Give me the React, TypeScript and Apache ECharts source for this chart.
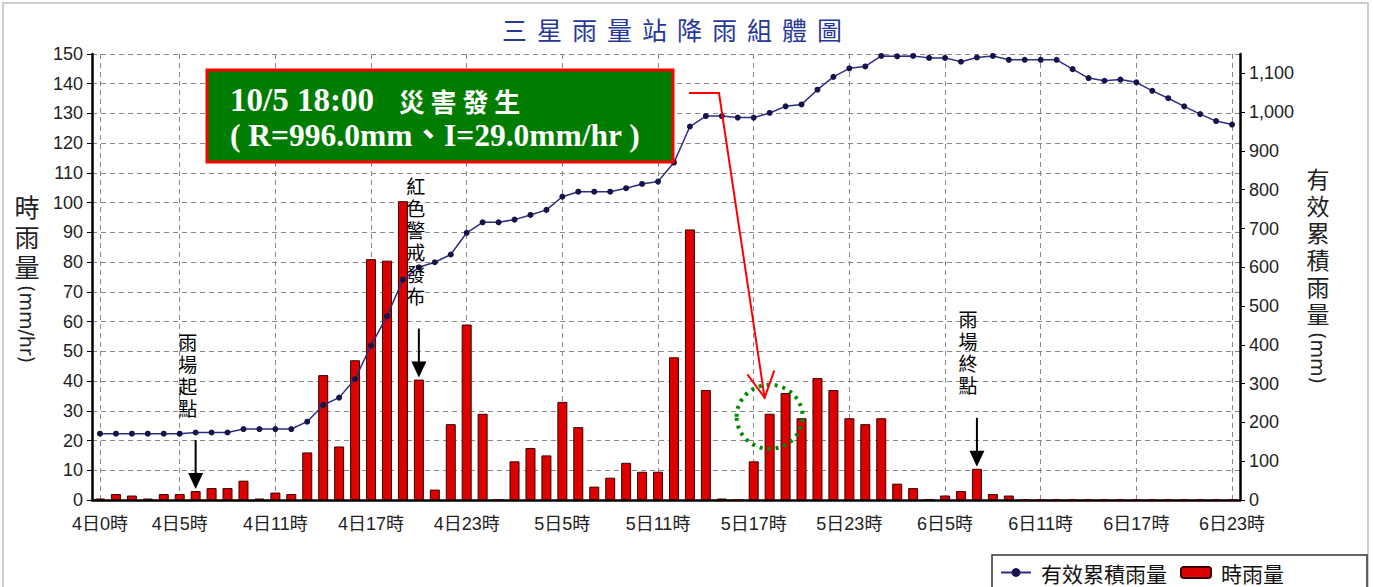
import React, { useEffect, useRef } from 'react';
import * as echarts from 'echarts';

// ---------- data ----------
const DAYS = ['4日', '5日', '6日'];
const HOURS_PER_DAY = 24;
const CATEGORIES: string[] = DAYS.flatMap((d) =>
  Array.from({ length: HOURS_PER_DAY }, (_, h) => `${d}${h}時`)
);
const LABELED_INDEX = [0, 5, 11, 17, 23, 29, 35, 41, 47, 53, 59, 65, 71];

// 時雨量 (mm/hr)
const HOURLY_RAIN = [
  0.5, 2, 1.5, 0.5, 2, 2, 3, 4, 4, 6.5, 0.5, 2.5,
  2, 16, 42, 18, 47, 81, 80.5, 100.5, 40.5, 3.5, 25.5, 59,
  29, 0, 13, 17.5, 15, 33, 24.5, 4.5, 7.5, 12.5, 9.5, 9.5,
  48, 91, 37, 0.5, 0, 13, 29, 36, 27.5, 41, 37, 27.5,
  25.5, 27.5, 5.5, 4, 0.3, 1.5, 3, 10.5, 2, 1.5, 0, 0,
  0, 0, 0, 0, 0, 0, 0, 0, 0, 0, 0, 0,
];

// 有效累積雨量 (mm)
const CUMULATIVE_RAIN = [
  171, 171, 171, 171, 171, 171, 174, 174, 174, 183, 183, 183,
  183, 202, 245, 264, 312, 398, 474, 568, 600, 613, 633, 689,
  716, 716, 723, 735, 748, 782, 795, 795, 795, 804, 815, 821,
  870, 963, 990, 990, 986, 986, 998, 1015, 1020, 1058, 1091, 1113,
  1118, 1145, 1144, 1145, 1140, 1140, 1130, 1141, 1145, 1135, 1135, 1135,
  1135, 1111, 1088, 1081, 1084, 1077, 1055, 1036, 1015, 995, 977, 968,
];

const RIGHT_TICKS = [0, 100, 200, 300, 400, 500, 600, 700, 800, 900, 1000, 1100];

const TITLE = '三星雨量站降雨組體圖';
const LEFT_TITLE = ['時雨量', '(mm/hr)'];
const RIGHT_TITLE = ['有效累積雨量', '(mm)'];
const DISASTER_TIME = '10/5 18:00';
const DISASTER_EVENT = '災 害 發 生';
const DISASTER_VALUES = '( R=996.0mm、I=29.0mm/hr )';

// annotation anchors: category index + label text
const MARKERS = [
  { index: 6, text: '雨場起點', dx: -8 },
  { index: 20, text: '紅色警戒發布', dx: -3 },
  { index: 55, text: '雨場終點', dx: -9 },
];
const DISASTER_INDEX = 42;

const FONT = '"Liberation Sans", Arial, "Noto Sans CJK TC", sans-serif';
const CJK = '"Noto Sans CJK TC", "Noto Sans CJK JP", sans-serif';
const SERIF = '"Liberation Serif", "Times New Roman", "Noto Sans CJK TC", serif';

export default function App() {
  const ref = useRef<HTMLDivElement>(null);

  useEffect(() => {
    if (!ref.current) return;
    const chart = echarts.init(ref.current, undefined, { renderer: 'svg' });
    const labelSet = new Set(LABELED_INDEX);
    const pick = (i: number) => labelSet.has(i);

    const option: any = {
      animation: false,
      backgroundColor: '#ffffff',
      grid: { left: 92, right: 133, top: 54, bottom: 87, containLabel: false },
      legend: {
        left: 992,
        top: 555,
        padding: [7, 83, 30, 8],
        borderColor: '#333',
        borderWidth: 1.5,
        itemGap: 13,
        itemWidth: 30,
        itemHeight: 11,
        textStyle: { fontSize: 21, color: '#111', fontFamily: CJK, padding: [0, 0, 0, 5] },
        data: [{ name: '有效累積雨量' }, { name: '時雨量' }],
      },
      xAxis: {
        type: 'category',
        data: CATEGORIES,
        boundaryGap: true,
        axisLine: { lineStyle: { color: '#000', width: 2.5 } },
        axisTick: { interval: pick, alignWithLabel: true, length: 5, lineStyle: { color: '#000', width: 1 } },
        axisLabel: { interval: pick, fontSize: 18, color: '#222', margin: 15, fontFamily: FONT },
        splitLine: {
          show: true,
          interval: pick,
          alignWithLabel: true,
          lineStyle: { color: '#888', type: [5, 4], width: 1 },
        },
      },
      yAxis: [
        {
          type: 'value',
          min: 0,
          max: 150,
          interval: 10,
          position: 'left',
          axisLine: { show: true, lineStyle: { color: '#000', width: 2.5 } },
          axisTick: { show: true, length: 5, lineStyle: { color: '#000' } },
          axisLabel: { fontSize: 18, color: '#222', margin: 9, fontFamily: FONT },
          splitLine: { show: true, lineStyle: { color: '#888', type: [5, 4], width: 1 } },
        },
        {
          type: 'value',
          min: 0,
          max: 1150,
          interval: 100,
          position: 'right',
          axisLine: { show: true, lineStyle: { color: '#000', width: 2.5 } },
          axisTick: { show: true, length: 5, customValues: RIGHT_TICKS, lineStyle: { color: '#000' } },
          axisLabel: {
            customValues: RIGHT_TICKS,
            fontSize: 18,
            color: '#222',
            margin: 9,
            fontFamily: FONT,
            formatter: (v: number) => v.toLocaleString('en-US'),
          },
          splitLine: { show: false },
        },
      ],
      series: [
        {
          name: '時雨量',
          type: 'bar',
          yAxisIndex: 0,
          data: HOURLY_RAIN,
          barWidth: 10,
          itemStyle: { color: '#dc0000', borderColor: '#3a0000', borderWidth: 1 },
          z: 2,
        },
        {
          name: '有效累積雨量',
          type: 'line',
          yAxisIndex: 1,
          data: CUMULATIVE_RAIN,
          symbol: 'circle',
          symbolSize: 6,
          showSymbol: true,
          lineStyle: { color: '#2d2d86', width: 1.5 },
          itemStyle: { color: '#14144a' },
          z: 3,
        },
      ],
    };
    chart.setOption(option);

    const px = (i: number, v: number) =>
      chart.convertToPixel({ xAxisIndex: 0, yAxisIndex: 0 }, [i, v]) as number[];

    const graphics: any[] = [];
    // outer frame
    graphics.push({
      type: 'rect',
      z: 0,
      silent: true,
      shape: { x: 3, y: 3, width: 1365, height: 620 },
      style: { fill: 'none', stroke: '#bdbdbd', lineWidth: 1.5 },
    });
    // title, spaced characters
    const titleChars = Array.from(TITLE);
    const pitch = 35;
    const titleStart = 672 - (titleChars.length * pitch) / 2 + pitch / 2;
    titleChars.forEach((ch, k) => {
      graphics.push({
        type: 'text',
        z: 100,
        x: titleStart + k * pitch,
        y: 29,
        style: { text: ch, fontSize: 25, fontFamily: CJK, fill: '#26389a', align: 'center', verticalAlign: 'middle' },
      });
    });
    // left axis title
    graphics.push({
      type: 'text', z: 100, x: 27, y: 193,
      style: { text: Array.from(LEFT_TITLE[0]).join('\n'), fontSize: 25, lineHeight: 30, fontFamily: FONT, fill: '#222', align: 'center', verticalAlign: 'top' },
    });
    graphics.push({
      type: 'text', z: 100, x: 27, y: 285, rotation: -Math.PI / 2,
      style: { text: LEFT_TITLE[1], fontSize: 19, fontFamily: '"DejaVu Sans", sans-serif', fill: '#222', align: 'left', verticalAlign: 'middle' },
    });
    // right axis title
    graphics.push({
      type: 'text', z: 100, x: 1318, y: 166,
      style: { text: Array.from(RIGHT_TITLE[0]).join('\n'), fontSize: 23, lineHeight: 27, fontFamily: FONT, fill: '#222', align: 'center', verticalAlign: 'top' },
    });
    graphics.push({
      type: 'text', z: 100, x: 1318, y: 332, rotation: -Math.PI / 2,
      style: { text: RIGHT_TITLE[1], fontSize: 19, fontFamily: '"DejaVu Sans", sans-serif', fill: '#222', align: 'left', verticalAlign: 'middle' },
    });

    // markers: vertical label + black arrow
    MARKERS.forEach((m) => {
      const [x, yTop] = px(m.index, HOURLY_RAIN[m.index]);
      const tip = yTop - 2;
      const top = tip - 49;
      graphics.push({
        type: 'line', z: 100,
        shape: { x1: x, y1: top, x2: x, y2: tip - 12 },
        style: { stroke: '#000', lineWidth: 2 },
      });
      graphics.push({
        type: 'polygon', z: 100,
        shape: { points: [[x - 7.5, tip - 16], [x + 7.5, tip - 16], [x, tip]] },
        style: { fill: '#000' },
      });
      const n = Array.from(m.text).length;
      graphics.push({
        type: 'text', z: 100, x: x + m.dx, y: top - 20 - n * 22,
        style: { text: Array.from(m.text).join('\n'), fontSize: 19, lineHeight: 22, fontFamily: FONT, fill: '#000', align: 'center', verticalAlign: 'top' },
      });
    });

    // disaster box
    graphics.push({
      type: 'rect', z: 100,
      shape: { x: 207, y: 70, width: 466, height: 92 },
      style: { fill: '#007c00', stroke: '#ff0000', lineWidth: 3 },
    });
    graphics.push({
      type: 'text', z: 101, x: 230, y: 100,
      style: {
        text: `{a|${DISASTER_TIME}   }{b|${DISASTER_EVENT}}`,
        fill: '#fff',
        align: 'left',
        verticalAlign: 'middle',
        rich: {
          a: { fontSize: 33, fontWeight: 'bold', fontFamily: SERIF, fill: '#fff', color: '#fff' },
          b: { fontSize: 26, fontWeight: 'bold', fontFamily: CJK, fill: '#fff', color: '#fff' },
        },
      },
    });
    graphics.push({
      type: 'text', z: 101, x: 230, y: 135,
      style: { text: DISASTER_VALUES, fontSize: 31.5, fontWeight: 'bold', fontFamily: SERIF, fill: '#fff', align: 'left', verticalAlign: 'middle' },
    });

    // circle around disaster hour + red pointer
    const [cx, barTop] = px(DISASTER_INDEX, HOURLY_RAIN[DISASTER_INDEX]);
    graphics.push({
      type: 'ellipse', z: 100,
      shape: { cx: cx, cy: barTop + 3, rx: 33, ry: 32 },
      style: { fill: 'none', stroke: '#008a00', lineWidth: 4, lineDash: [3, 5] },
    });
    const tipX = cx - 5;
    const tipY = barTop - 16;
    const startX = 689, startY = 93, bendX = 719;
    graphics.push({
      type: 'polyline', z: 100,
      shape: { points: [[startX, startY], [bendX, startY], [tipX, tipY]] },
      style: { stroke: '#ff0000', lineWidth: 2, fill: 'none' },
    });
    const ang = Math.atan2(startY - tipY, bendX - tipX);
    const headLen = 29;
    const spread = (28 * Math.PI) / 180;
    graphics.push({
      type: 'polyline', z: 100,
      shape: {
        points: [
          [tipX + headLen * Math.cos(ang - spread), tipY + headLen * Math.sin(ang - spread)],
          [tipX, tipY],
          [tipX + headLen * Math.cos(ang + spread), tipY + headLen * Math.sin(ang + spread)],
        ],
      },
      style: { stroke: '#ff0000', lineWidth: 2, fill: 'none' },
    });

    chart.setOption({ graphic: { elements: graphics } });

    return () => chart.dispose();
  }, []);

  return (
    <div
      ref={ref}
      style={{ position: 'fixed', left: 0, top: 0, width: 1373, height: 587, background: '#fff' }}
    />
  );
}
